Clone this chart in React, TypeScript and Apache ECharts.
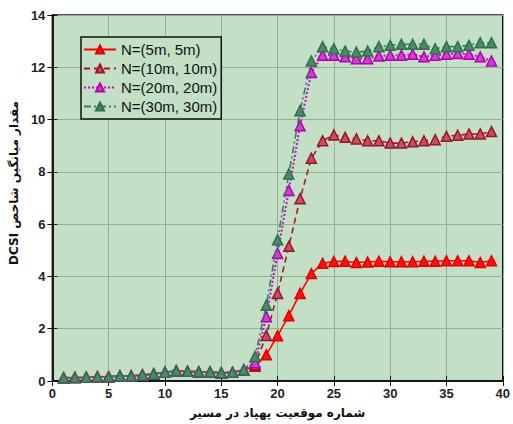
import React, { useEffect, useRef } from "react";
import * as echarts from "echarts";

const positions: number[] = Array.from({ length: 39 }, (_, i) => i + 1);
const baseValues = [0.12, 0.13, 0.14, 0.16, 0.16, 0.19, 0.19, 0.23, 0.27, 0.33, 0.39, 0.37, 0.35, 0.34, 0.31, 0.33, 0.42];
const n5Tail = [0.56, 1.0, 1.73, 2.5, 3.35, 4.11, 4.5, 4.57, 4.58, 4.53, 4.55, 4.58, 4.56, 4.56, 4.56, 4.58, 4.58, 4.6, 4.6, 4.6, 4.53, 4.6];
const n10Tail = [0.62, 1.74, 3.35, 5.15, 6.97, 8.52, 9.19, 9.41, 9.32, 9.26, 9.19, 9.19, 9.1, 9.1, 9.15, 9.19, 9.23, 9.36, 9.4, 9.45, 9.45, 9.54];
const n20Tail = [0.7, 2.46, 4.88, 7.29, 9.76, 11.8, 12.46, 12.46, 12.4, 12.33, 12.33, 12.43, 12.46, 12.46, 12.5, 12.4, 12.46, 12.5, 12.53, 12.5, 12.4, 12.24];
const n30Tail = [0.94, 2.9, 5.4, 7.92, 10.34, 12.24, 12.79, 12.71, 12.62, 12.58, 12.62, 12.79, 12.84, 12.88, 12.88, 12.88, 12.71, 12.79, 12.79, 12.84, 12.94, 12.94];
const seriesNames = ["N=(5m, 5m)", "N=(10m, 10m)", "N=(20m, 20m)", "N=(30m, 30m)"];
const xTitle = "شماره موقعیت پهپاد در مسیر";
const yTitle = "مقدار میانگین شاخص DCSI";

const pair = (tail: number[]) => positions.map((x, i) => [x, i < baseValues.length ? baseValues[i] : tail[i - baseValues.length]]);

export default function App() {
  const ref = useRef<HTMLDivElement>(null);
  useEffect(() => {
    if (!ref.current) return;
    const chart = echarts.init(ref.current, null, { renderer: "svg" });
    const tickFont = { color: "#222", fontSize: 13, fontWeight: "bold" as const, fontFamily: "Liberation Sans, Arial, sans-serif" };
    const gridColor = "#8fb095";
    const styles = [
      { color: "#ff0000", type: "solid", width: 1.6, fill: "#ff1010", border: "#e00000" },
      { color: "#a8182c", type: [6, 4], width: 1.6, fill: "#c4505e", border: "#9a1428" },
      { color: "#c010c0", type: [2, 2], width: 2, fill: "#d040d0", border: "#b000b0" },
      { color: "#3a7d5c", type: [7, 3, 2, 3], width: 1.6, fill: "#4a8a68", border: "#2f6e4e" },
    ];
    const tails = [n5Tail, n10Tail, n20Tail, n30Tail];
    chart.setOption({
      animation: false,
      backgroundColor: "#ffffff",
      grid: {
        left: 47, right: 4, top: 15, bottom: 41,
        show: true, backgroundColor: "#c3dfc6", borderColor: "#111", borderWidth: 1.5,
      },
      legend: {
        data: seriesNames,
        orient: "vertical",
        left: 81, top: 37,
        backgroundColor: "#c3dfc6",
        borderColor: "#111", borderWidth: 1.5, borderRadius: 0,
        padding: [5, 4, 5, 2],
        itemWidth: 32, itemHeight: 10, itemGap: 4,
        textStyle: { color: "#111", fontSize: 15, fontFamily: "Liberation Sans, Arial, sans-serif" },
      },
      xAxis: [
        {
          type: "value", min: 0, max: 40, interval: 5,
          name: xTitle, nameLocation: "middle", nameGap: 26,
          nameTextStyle: { color: "#111", fontSize: 12, fontWeight: "bold", fontFamily: "DejaVu Sans, sans-serif" },
          axisLine: { show: true, lineStyle: { color: "#111", width: 1.5 } },
          axisTick: { show: true, inside: true, length: 5, lineStyle: { color: "#111" } },
          axisLabel: { ...tickFont, margin: 6 },
          splitLine: { show: true, lineStyle: { color: gridColor, width: 1 } },
        },
        {
          type: "value", min: 0, max: 40, interval: 5, position: "top",
          axisLine: { show: true, lineStyle: { color: "#111", width: 1.5 } },
          axisTick: { show: true, inside: true, length: 5, lineStyle: { color: "#111" } },
          axisLabel: { show: false }, splitLine: { show: false },
        },
      ],
      yAxis: [
        {
          type: "value", min: 0, max: 14, interval: 2,
          name: "\u202B" + yTitle + "\u202C", nameLocation: "middle", nameGap: 31, nameRotate: 90,
          nameTextStyle: { color: "#111", fontSize: 12, fontWeight: "bold", fontFamily: "DejaVu Sans, sans-serif", padding: [0, 0, 0, 30] },
          axisLine: { show: true, lineStyle: { color: "#111", width: 1.5 } },
          axisTick: { show: true, inside: true, length: 5, lineStyle: { color: "#111" } },
          axisLabel: { ...tickFont, margin: 7 },
          splitLine: { show: true, lineStyle: { color: gridColor, width: 1 } },
        },
        {
          type: "value", min: 0, max: 14, interval: 2, position: "right",
          axisLine: { show: true, lineStyle: { color: "#111", width: 1.5 } },
          axisTick: { show: true, inside: true, length: 5, lineStyle: { color: "#111" } },
          axisLabel: { show: false }, splitLine: { show: false },
        },
      ],
      series: seriesNames.map((name, k) => ({
        name,
        type: "line",
        xAxisIndex: 0,
        yAxisIndex: 0,
        data: pair(tails[k]),
        symbol: "triangle",
        symbolSize: 10,
        showAllSymbol: true,
        lineStyle: { color: styles[k].color, type: styles[k].type as any, width: styles[k].width },
        itemStyle: { color: styles[k].fill, borderColor: styles[k].border, borderWidth: 1.5 },
        z: 2 + k,
      })),
    });
    return () => chart.dispose();
  }, []);
  return <div ref={ref} style={{ position: "absolute", left: 0, top: 0, width: 513, height: 424 }} />;
}
